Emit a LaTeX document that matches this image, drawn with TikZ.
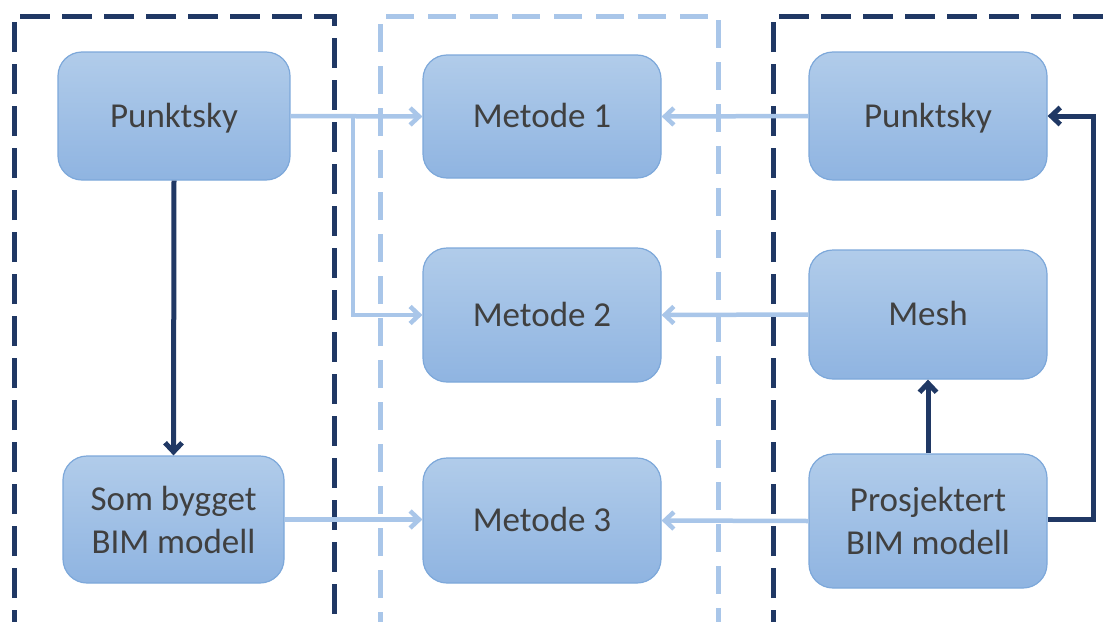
\documentclass[tikz,border=0pt]{standalone}
\usepackage{fontspec}
\setmainfont{Carlito}
\usetikzlibrary{arrows.meta}
\definecolor{navy}{HTML}{203864}
\definecolor{paleline}{HTML}{A9C6E9}
\definecolor{boxtop}{HTML}{B1CCEA}
\definecolor{boxbot}{HTML}{8FB4E1}
\definecolor{boxedge}{HTML}{7DA8DA}
\definecolor{txt}{HTML}{404040}
\tikzset{
  stage/.style={rounded corners=24pt, draw=boxedge, line width=1.2pt,
    top color=boxtop, bottom color=boxbot, text=txt,
    minimum width=236pt, align=center,
    font=\fontsize{35}{43}\selectfont},
  oneline/.style={text height=25pt, text depth=2.5pt},
  frameD/.style={draw=navy, line width=5pt, dash pattern=on 30pt off 12pt},
  frameL/.style={draw=paleline, line width=5pt, dash pattern=on 28pt off 14pt},
  flow/.style={draw=paleline, line width=4.5pt,
    -{Straight Barb[length=9pt,width=17pt,line width=4.5pt]}},
  link/.style={draw=navy, line width=5pt,
    -{Straight Barb[length=9pt,width=17pt,line width=5pt]}},
}
\begin{document}
\begin{tikzpicture}[x=1pt,y=-1pt]
\clip (0,0) rectangle (1110,621);
\useasboundingbox (0,0) rectangle (1110,621);

% group frames
\draw[frameD] (14,640) -- (14,16) -- (334,16) -- (334,640);
\draw[frameL] (380,640) -- (380,16) -- (718,16) -- (718,640);
\draw[frameD] (773,640) -- (773,16) -- (1130,16);

% left column
\node[stage, oneline, minimum width=232pt, minimum height=128pt] (pkL) at (174,116) {Punktsky};
\node[stage, minimum width=221pt, minimum height=127pt] (som) at (173.5,519.5) {Som bygget\\BIM modell};

% middle column
\node[stage, oneline, minimum width=238pt, minimum height=123pt] (m1) at (542,116.5) {Metode 1};
\node[stage, oneline, minimum width=238pt, minimum height=134pt] (m2) at (542,315) {Metode 2};
\node[stage, oneline, minimum width=238pt, minimum height=125pt] (m3) at (542,520.5) {Metode 3};

% right column
\node[stage, oneline, minimum width=238pt, minimum height=128pt] (pkR) at (928,116) {Punktsky};
\node[stage, oneline, minimum width=238pt, minimum height=129pt] (mesh) at (928,314.5) {Mesh};
\node[stage, minimum width=238pt, minimum height=134pt] (pro) at (928,521) {Prosjektert\\BIM modell};

% light connectors
\coordinate (split) at (353,116);
\draw[flow] (pkL.east) -- (m1.west);
\draw[flow] (split) -- (split |- m2.west) -- (m2.west);
\draw[flow] (som.east) -- (som.east -| m3.west);
\draw[flow] (pkR.west) -- (m1.east);
\draw[flow] (mesh.west) -- (m2.east);
\draw[flow] (pro.west) -- (m3.east);

% dark connectors
\draw[link] (pkL.south) -- (som.north);
\draw[link] (pro.north) -- (mesh.south);
\coordinate (turn) at (1093,519);
\draw[link] (pro.east |- turn) -- (turn) -- (turn |- pkR.east) -- (pkR.east);
\end{tikzpicture}
\end{document}
